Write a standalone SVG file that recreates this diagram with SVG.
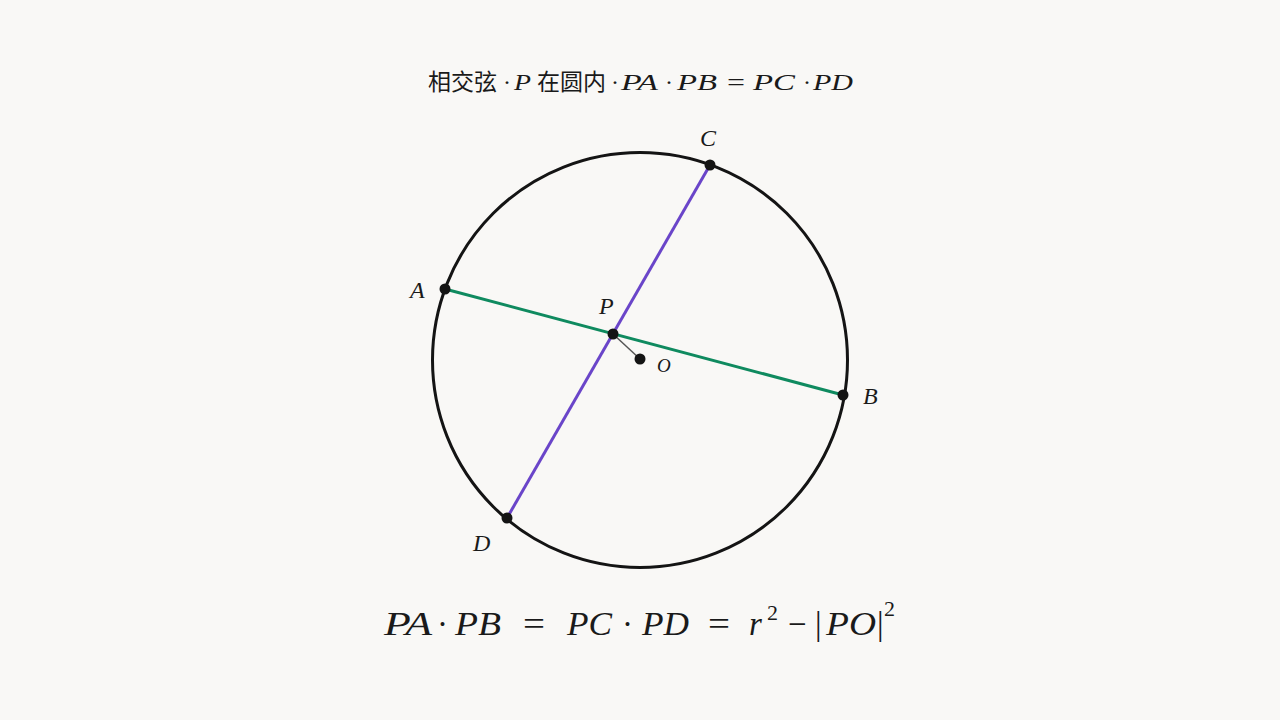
<svg xmlns="http://www.w3.org/2000/svg" width="1280" height="720" viewBox="0 0 1280 720">
<style>
.m{font-family:"Liberation Serif","DejaVu Serif",serif;font-style:italic;fill:#1a1a1a}
.r{font-family:"Liberation Serif","DejaVu Serif",serif;fill:#1a1a1a}
.c{font-family:"Noto Sans CJK SC","Noto Sans",sans-serif;fill:#1a1a1a}
.pt{fill:#141414}
</style>
<rect width="1280" height="720" fill="#f9f8f6"/>
<g id="title" font-size="24">
<text class="c" x="428" y="90" font-size="23">相交弦</text>
<text class="r" x="503" y="90">·</text>
<text class="m" x="514" y="90" textLength="17" lengthAdjust="spacingAndGlyphs">P</text>
<text class="c" x="537" y="90" font-size="23">在圆内</text>
<text class="r" x="611" y="90">·</text>
<text class="m" x="621" y="90" textLength="37" lengthAdjust="spacingAndGlyphs">PA</text>
<text class="r" x="665" y="90">·</text>
<text class="m" x="677" y="90" textLength="40" lengthAdjust="spacingAndGlyphs">PB</text>
<text class="r" x="727" y="90" textLength="18" lengthAdjust="spacingAndGlyphs">=</text>
<text class="m" x="753" y="90" textLength="42" lengthAdjust="spacingAndGlyphs">PC</text>
<text class="r" x="803" y="90">·</text>
<text class="m" x="813" y="90" textLength="40" lengthAdjust="spacingAndGlyphs">PD</text>
</g>
<g id="circle">
<circle cx="640" cy="360" r="207.5" fill="none" stroke="#141414" stroke-width="3"/>
</g>
<g id="connectors">
<line x1="445" y1="289" x2="843" y2="395" stroke="#0f8a5f" stroke-width="3"/>
<line x1="710" y1="165" x2="507" y2="518" stroke="#6a45c9" stroke-width="3"/>
<line x1="613" y1="334" x2="640" y2="359" stroke="#555" stroke-width="1.5"/>
</g>
<g id="A"><circle class="pt" cx="445" cy="289" r="5.5"/><text class="m" x="410" y="298" font-size="24">A</text></g>
<g id="B"><circle class="pt" cx="843" cy="395" r="5.5"/><text class="m" x="863" y="404" font-size="24">B</text></g>
<g id="C"><circle class="pt" cx="710" cy="165" r="5.5"/><text class="m" x="700" y="146" font-size="24">C</text></g>
<g id="D"><circle class="pt" cx="507" cy="518" r="5.5"/><text class="m" x="473" y="551" font-size="24">D</text></g>
<g id="P"><circle class="pt" cx="613" cy="334" r="5.5"/><text class="m" x="599" y="314" font-size="24">P</text></g>
<g id="O"><circle class="pt" cx="640" cy="359" r="5.5"/><text class="m" x="657" y="372" font-size="19">O</text></g>
<g id="formula" font-size="33">
<text class="m" x="384" y="635" textLength="48" lengthAdjust="spacingAndGlyphs">PA</text>
<text class="r" x="437" y="635">·</text>
<text class="m" x="455" y="635" textLength="46" lengthAdjust="spacingAndGlyphs">PB</text>
<text class="r" x="523" y="635" textLength="22" lengthAdjust="spacingAndGlyphs">=</text>
<text class="m" x="567" y="635" textLength="45" lengthAdjust="spacingAndGlyphs">PC</text>
<text class="r" x="622" y="635">·</text>
<text class="m" x="642" y="635" textLength="47" lengthAdjust="spacingAndGlyphs">PD</text>
<text class="r" x="708" y="635" textLength="22" lengthAdjust="spacingAndGlyphs">=</text>
<text class="m" x="749" y="635">r</text>
<text class="r" x="767" y="620" font-size="22">2</text>
<text class="r" x="788" y="635">−</text>
<text class="r" x="815" y="635">|</text>
<text class="m" x="826" y="635" textLength="50" lengthAdjust="spacingAndGlyphs">PO</text>
<text class="r" x="877" y="635">|</text>
<text class="r" x="884" y="616" font-size="22">2</text>
</g>
</svg>
